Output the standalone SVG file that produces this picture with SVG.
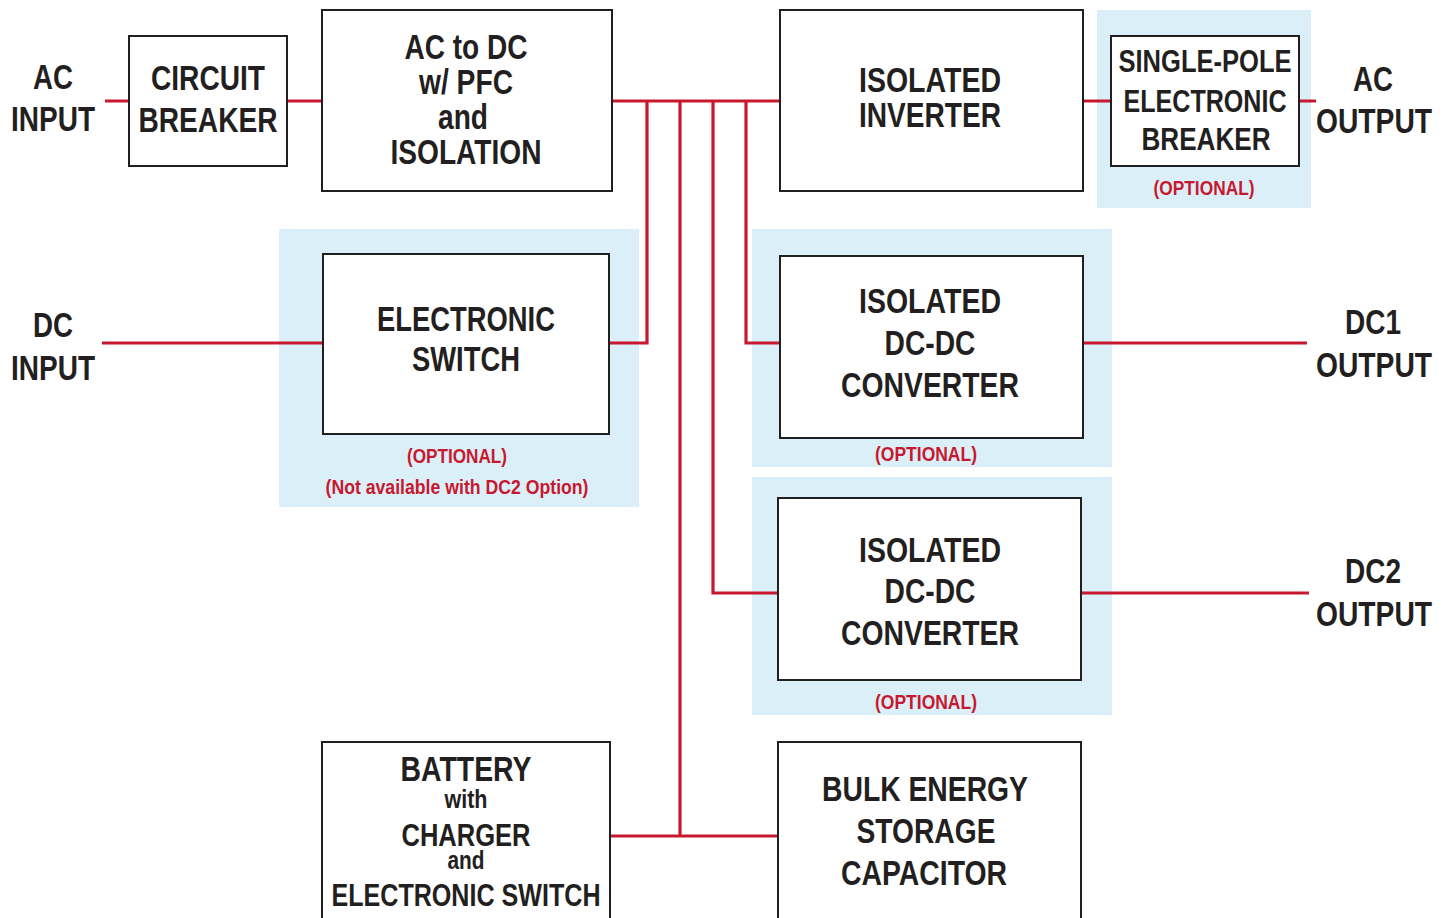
<svg xmlns="http://www.w3.org/2000/svg" width="1450" height="918" viewBox="0 0 1450 918">
<style>
.bg{fill:#daeff8}
.box{fill:#fff;stroke:#231f20;stroke-width:2}
.w{fill:none;stroke:#c8182f;stroke-width:3.2}
text{font-family:"Liberation Sans",Arial,sans-serif;font-weight:bold;fill:#231f20;text-anchor:middle}
.t{font-size:35px}
.s{font-size:32px}
.o{font-size:21px;fill:#c8182f}
</style>
<rect width="1450" height="918" fill="#fff"/>
<g id="backgrounds">
<rect class="bg" x="1097" y="10" width="214" height="198"/>
<rect class="bg" x="279" y="229" width="360" height="278"/>
<rect class="bg" x="752" y="229" width="360" height="238"/>
<rect class="bg" x="752" y="477" width="360" height="238"/>
</g>
<g id="connectors">
<path class="w" d="M105 101H129M287 101H322M612 101H780"/>
<path class="w" d="M647 101V343H609"/>
<path class="w" d="M680 101V836M610 836H778"/>
<path class="w" d="M713 101V593H778"/>
<path class="w" d="M746 101V343H780"/>
<path class="w" d="M102 343H323"/>
<path class="w" d="M1083 343H1307"/>
<path class="w" d="M1081 593H1309"/>
<path class="w" d="M1083 101H1111M1299 101H1316"/>
</g>
<g id="ac-input"><text class="t" x="53" y="89" textLength="40" lengthAdjust="spacingAndGlyphs">AC</text><text class="t" x="53" y="131" textLength="84" lengthAdjust="spacingAndGlyphs">INPUT</text></g>
<g id="circuit-breaker"><rect class="box" x="129" y="36" width="158" height="130"/><text class="t" x="208" y="90" textLength="114" lengthAdjust="spacingAndGlyphs">CIRCUIT</text><text class="t" x="208" y="132" textLength="139" lengthAdjust="spacingAndGlyphs">BREAKER</text></g>
<g id="ac-dc"><rect class="box" x="322" y="10" width="290" height="181"/><text class="t" x="466" y="59" textLength="123" lengthAdjust="spacingAndGlyphs">AC to DC</text><text class="t" x="466" y="94" textLength="94" lengthAdjust="spacingAndGlyphs">w/ PFC</text><text class="t" x="463" y="129" textLength="50" lengthAdjust="spacingAndGlyphs">and</text><text class="t" x="466" y="164" textLength="151" lengthAdjust="spacingAndGlyphs">ISOLATION</text></g>
<g id="inverter"><rect class="box" x="780" y="10" width="303" height="181"/><text class="t" x="930" y="92" textLength="142" lengthAdjust="spacingAndGlyphs">ISOLATED</text><text class="t" x="930" y="127" textLength="142" lengthAdjust="spacingAndGlyphs">INVERTER</text></g>
<g id="sp-breaker"><rect class="box" x="1111" y="36" width="188" height="130"/><text class="s" x="1205" y="72" textLength="173" lengthAdjust="spacingAndGlyphs">SINGLE-POLE</text><text class="s" x="1205" y="112" textLength="163" lengthAdjust="spacingAndGlyphs">ELECTRONIC</text><text class="s" x="1206" y="150" textLength="129" lengthAdjust="spacingAndGlyphs">BREAKER</text><text class="o" x="1204" y="195" textLength="101" lengthAdjust="spacingAndGlyphs">(OPTIONAL)</text></g>
<g id="ac-output"><text class="t" x="1373" y="91" textLength="40" lengthAdjust="spacingAndGlyphs">AC</text><text class="t" x="1374" y="133" textLength="116" lengthAdjust="spacingAndGlyphs">OUTPUT</text></g>
<g id="dc-input"><text class="t" x="53" y="337" textLength="40" lengthAdjust="spacingAndGlyphs">DC</text><text class="t" x="53" y="380" textLength="84" lengthAdjust="spacingAndGlyphs">INPUT</text></g>
<g id="electronic-switch"><rect class="box" x="323" y="254" width="286" height="180"/><text class="t" x="466" y="331" textLength="178" lengthAdjust="spacingAndGlyphs">ELECTRONIC</text><text class="t" x="466" y="371" textLength="108" lengthAdjust="spacingAndGlyphs">SWITCH</text><text class="o" x="457" y="463" textLength="100" lengthAdjust="spacingAndGlyphs">(OPTIONAL)</text><text class="o" x="457" y="494" textLength="263" lengthAdjust="spacingAndGlyphs">(Not available with DC2 Option)</text></g>
<g id="dcdc1"><rect class="box" x="780" y="256" width="303" height="182"/><text class="t" x="930" y="313" textLength="142" lengthAdjust="spacingAndGlyphs">ISOLATED</text><text class="t" x="930" y="355" textLength="91" lengthAdjust="spacingAndGlyphs">DC-DC</text><text class="t" x="930" y="397" textLength="178" lengthAdjust="spacingAndGlyphs">CONVERTER</text><text class="o" x="926" y="461" textLength="102" lengthAdjust="spacingAndGlyphs">(OPTIONAL)</text></g>
<g id="dc1-output"><text class="t" x="1373" y="334" textLength="56" lengthAdjust="spacingAndGlyphs">DC1</text><text class="t" x="1374" y="377" textLength="116" lengthAdjust="spacingAndGlyphs">OUTPUT</text></g>
<g id="dcdc2"><rect class="box" x="778" y="498" width="303" height="182"/><text class="t" x="930" y="562" textLength="142" lengthAdjust="spacingAndGlyphs">ISOLATED</text><text class="t" x="930" y="603" textLength="91" lengthAdjust="spacingAndGlyphs">DC-DC</text><text class="t" x="930" y="645" textLength="178" lengthAdjust="spacingAndGlyphs">CONVERTER</text><text class="o" x="926" y="709" textLength="102" lengthAdjust="spacingAndGlyphs">(OPTIONAL)</text></g>
<g id="dc2-output"><text class="t" x="1373" y="583" textLength="56" lengthAdjust="spacingAndGlyphs">DC2</text><text class="t" x="1374" y="626" textLength="116" lengthAdjust="spacingAndGlyphs">OUTPUT</text></g>
<g id="battery"><rect class="box" x="322" y="742" width="288" height="190"/><text class="t" x="466" y="781" textLength="131" lengthAdjust="spacingAndGlyphs">BATTERY</text><text x="466" y="808" style="font-size:25px" textLength="43" lengthAdjust="spacingAndGlyphs">with</text><text x="466" y="846" style="font-size:32px" textLength="129" lengthAdjust="spacingAndGlyphs">CHARGER</text><text x="466" y="869" style="font-size:25px" textLength="37" lengthAdjust="spacingAndGlyphs">and</text><text x="466" y="906" style="font-size:32px" textLength="269" lengthAdjust="spacingAndGlyphs">ELECTRONIC SWITCH</text></g>
<g id="bulk"><rect class="box" x="778" y="742" width="303" height="190"/><text class="t" x="925" y="801" textLength="206" lengthAdjust="spacingAndGlyphs">BULK ENERGY</text><text class="t" x="926" y="843" textLength="139" lengthAdjust="spacingAndGlyphs">STORAGE</text><text class="t" x="924" y="885" textLength="166" lengthAdjust="spacingAndGlyphs">CAPACITOR</text></g>
</svg>
